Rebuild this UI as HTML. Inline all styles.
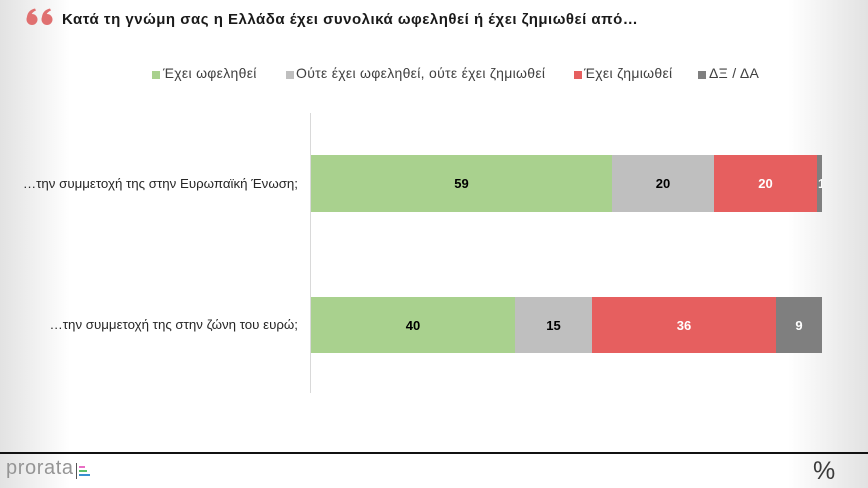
<!DOCTYPE html>
<html>
<head>
<meta charset="utf-8">
<style>
  html,body{margin:0;padding:0;}
  body{width:868px;height:488px;position:relative;overflow:hidden;background:#fff;font-family:"Liberation Sans","DejaVu Sans",sans-serif;}
  .vl{position:absolute;top:0;left:0;width:70px;height:488px;background:linear-gradient(to right,#e2e2e2,rgba(255,255,255,0));}
  .vr{position:absolute;top:0;right:0;width:80px;height:488px;background:linear-gradient(to left,#e2e2e2,rgba(255,255,255,0));}
  .abs{position:absolute;}
  .title{left:62px;top:11px;font-size:15px;letter-spacing:0.5px;font-weight:bold;color:#1a1a1a;white-space:nowrap;}
  .legend{top:65px;font-size:14px;letter-spacing:0.3px;color:#404040;white-space:nowrap;}
  .sw{position:absolute;width:8px;height:8px;top:71px;}
  .cat{font-size:13.3px;color:#262626;white-space:nowrap;text-align:right;width:290px;left:8px;}
  .seg{position:absolute;display:flex;align-items:center;justify-content:center;font-size:13px;font-weight:bold;box-sizing:border-box;overflow:hidden;}
  .g{background:#a9d18e;color:#000;}
  .s{background:#bfbfbf;color:#000;}
  .r{background:#e65f5f;color:#fff;}
  .d{background:#7f7f7f;color:#fff;}
</style>
</head>
<body>
<div class="vl"></div>
<div class="vr"></div>

<svg class="abs" style="left:25px;top:8px" width="30" height="18" viewBox="0 0 30 18">
  <g fill="#e07070">
    <circle cx="7" cy="11.5" r="5.5"/>
    <path d="M1.8,11 C1.8,5 5,1.5 10,0.5 L11,2.5 C7.5,3.8 6,6.5 6,9 Z"/>
    <circle cx="22" cy="11.5" r="5.5"/>
    <path d="M16.8,11 C16.8,5 20,1.5 25,0.5 L26,2.5 C22.5,3.8 21,6.5 21,9 Z"/>
  </g>
</svg>
<div class="abs title">Κατά τη γνώμη σας η Ελλάδα έχει συνολικά ωφεληθεί ή έχει ζημιωθεί από…</div>

<div class="sw" style="left:152px;background:#a9d18e"></div>
<div class="abs legend" style="left:163px">Έχει ωφεληθεί</div>
<div class="sw" style="left:286px;background:#bfbfbf"></div>
<div class="abs legend" style="left:296px">Ούτε έχει ωφεληθεί, ούτε έχει ζημιωθεί</div>
<div class="sw" style="left:574px;background:#e65f5f"></div>
<div class="abs legend" style="left:584px">Έχει ζημιωθεί</div>
<div class="sw" style="left:698px;background:#7f7f7f"></div>
<div class="abs legend" style="left:709px">ΔΞ / ΔΑ</div>

<div class="abs" style="left:310px;top:113px;width:1px;height:280px;background:#d9d9d9"></div>

<div class="abs cat" style="top:176px">…την συμμετοχή της στην Ευρωπαϊκή Ένωση;</div>
<div class="abs cat" style="top:317px">…την συμμετοχή της στην ζώνη του ευρώ;</div>

<div class="seg g" style="left:311px;top:155px;width:301px;height:57px">59</div>
<div class="seg s" style="left:612px;top:155px;width:102px;height:57px">20</div>
<div class="seg r" style="left:714px;top:155px;width:103px;height:57px">20</div>
<div class="seg d" style="left:817px;top:155px;width:5px;height:57px;justify-content:flex-start;padding-left:1px">1</div>

<div class="seg g" style="left:311px;top:297px;width:204px;height:56px">40</div>
<div class="seg s" style="left:515px;top:297px;width:77px;height:56px">15</div>
<div class="seg r" style="left:592px;top:297px;width:184px;height:56px">36</div>
<div class="seg d" style="left:776px;top:297px;width:46px;height:56px">9</div>

<div class="abs" style="left:0;top:452px;width:868px;height:2px;background:#111"></div>

<div class="abs" style="left:6px;top:457px;font-size:20px;color:#959595;letter-spacing:0.6px;font-weight:normal">prorata</div>
<div class="abs" style="left:76px;top:463px;width:1px;height:16px;background:#555"></div>
<div class="abs" style="left:79px;top:466px;width:6px;height:2px;background:#e86fc4"></div>
<div class="abs" style="left:79px;top:470px;width:8px;height:2px;background:#5cc06a"></div>
<div class="abs" style="left:79px;top:474px;width:11px;height:2px;background:#3a8fd0"></div>

<div class="abs" style="left:813px;top:457px;font-size:25px;color:#3a3a3a">%</div>
</body>
</html>
